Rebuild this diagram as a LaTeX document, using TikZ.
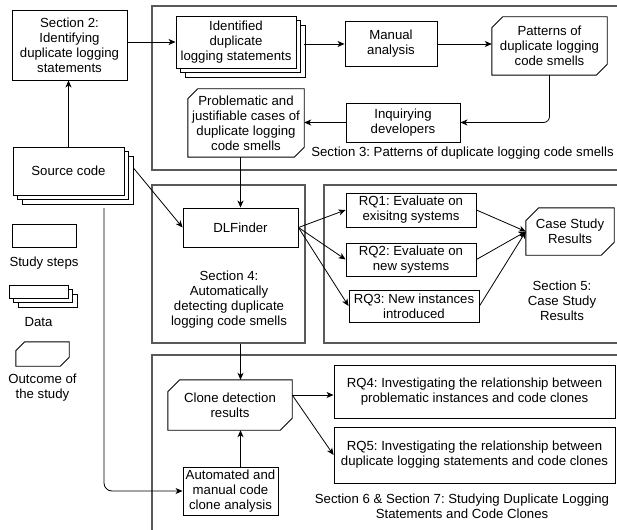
\documentclass[tikz,border=0pt]{standalone}
\usepackage{fontspec}
\setmainfont{Liberation Sans}
\usetikzlibrary{positioning, shadows, arrows.meta}
\frenchspacing

\begin{document}
\begin{tikzpicture}[
    x=1pt, y=-1pt,
    every node/.style={font=\fontsize{13.2}{15}\selectfont},
    box/.style={draw, rectangle, line width=0.9pt, inner sep=2pt, align=center},
    datastack/.style={box, fill=white, double copy shadow={shadow xshift=4.5pt, shadow yshift=-4.5pt, fill=white, draw=black, line width=0.9pt}},
    outcome/.style={rectangle, inner sep=2pt, align=center},
    chamfer/.style={line width=0.9pt},
    secbox/.style={draw=black!65, line width=1.3pt, rectangle, inner sep=0pt},
    seclabel/.style={align=center, inner sep=1pt},
    arrow/.style={-{Stealth[length=7pt, width=6pt, inset=2pt]}, line width=0.8pt}
]
\useasboundingbox (0,0) rectangle (617,529);

% Section frames, open to the right edge
\node[secbox, minimum width=468, minimum height=164] (sec3) at (386,88) {};
\node[secbox, minimum width=153, minimum height=158] (sec4) at (228.5,264) {};
\node[secbox, minimum width=296, minimum height=158] (sec5) at (472,264) {};
\node[secbox, minimum width=468, minimum height=180] (sec6) at (386,445) {};

% Section 2 and the source code
\node[box, minimum width=115, minimum height=70] (sec2) at (69.5,45) {Section 2:\\Identifying\\duplicate logging\\statements};
\node[datastack, minimum width=111, minimum height=48] (src) at (68.5,171) {Source code};

% Section 3
\node[datastack, minimum width=120, minimum height=52] (dup) at (236,42) {Identified\\duplicate\\logging statements};
\node[box, minimum width=92, minimum height=45] (manual) at (391,44) {Manual\\analysis};
\node[outcome, minimum width=115, minimum height=58] (patterns) at (549.5,46) {Patterns of\\duplicate logging\\code smells};
\node[box, minimum width=114, minimum height=39] (inquiry) at (403,122.5) {Inquirying\\developers};
\node[outcome, minimum width=116, minimum height=68] (problem) at (246,123) {Problematic and\\justifiable cases of\\duplicate logging\\code smells};
\node[seclabel] (sec3label) at (462.5,153) {Section 3: Patterns of duplicate logging code smells};

% Section 4
\node[box, minimum width=115, minimum height=39] (finder) at (240.5,227.5) {DLFinder};
\node[seclabel] (sec4label) at (229,300) {Section 4:\\Automatically\\detecting duplicate\\logging code smells};

% Section 5
\node[box, minimum width=130, minimum height=34] (rq1) at (411,210) {RQ1: Evaluate on\\exisitng systems};
\node[box, minimum width=130, minimum height=33] (rq2) at (411,259.5) {RQ2: Evaluate on\\new systems};
\node[box, minimum width=130, minimum height=32] (rq3) at (414,306) {RQ3: New instances\\introduced};
\node[outcome, minimum width=88, minimum height=47] (case) at (570,231.5) {Case Study\\Results};
\node[seclabel] (sec5label) at (562,301) {Section 5:\\Case Study\\Results};

% Section 6 & 7
\node[outcome, minimum width=124, minimum height=50] (clone) at (230,405) {Clone detection\\results};
\node[box, minimum width=95, minimum height=48] (auto) at (230.5,491) {Automated and\\manual code\\clone analysis};
\node[box, minimum width=281, minimum height=53] (rq4) at (474.5,391.5) {RQ4: Investigating the relationship between\\problematic instances and code clones};
\node[box, minimum width=281, minimum height=56] (rq5) at (474.5,455) {RQ5: Investigating the relationship between\\duplicate logging statements and code clones};
\node[seclabel] (sec6label) at (462,506) {Section 6 \& Section 7: Studying Duplicate Logging\\Statements and Code Clones};

% Legend
\node[box, minimum width=64, minimum height=23] (steplegend) at (44,235.5) {};
\node[seclabel, below=8pt of steplegend] {Study steps};
\node[datastack, minimum width=59, minimum height=13] (datalegend) at (38.5,291.5) {};
\node[seclabel, below=18pt of datalegend] {Data};
\node[outcome, minimum width=53, minimum height=24] (outlegend) at (42.5,354) {};
\node[seclabel, below=7pt of outlegend] {Outcome of\\the study};

% Chamfered outlines of the outcomes
\foreach \n/\c in {patterns/11, problem/10, case/13, clone/12, outlegend/9}
  \draw[chamfer] ([xshift=\c pt]\n.north west) -- (\n.north east) -- ([yshift=\c pt]\n.south east)
    -- ([xshift=-\c pt]\n.south east) -- (\n.south west) -- ([yshift=-\c pt]\n.north west) -- cycle;

% Arrows
\draw[arrow] (src.north) -- (src.north |- sec2.south);
\draw[arrow] (sec2.east |- dup) -- (dup.west);
\draw[arrow] ([xshift=8pt, yshift=-2pt]dup.east) -- (manual.west);
\draw[arrow] (manual.east) -- (manual.east -| patterns.west);
\draw[arrow, rounded corners=6pt] (patterns.south) |- (inquiry.east);
\draw[arrow] (inquiry.west) -- (inquiry.west -| problem.east);
\draw[arrow] (problem.south -| finder) -- (finder.north);
\draw[arrow] ([xshift=9pt, yshift=3pt]src.east) -- (finder.west);

\foreach \q in {rq1, rq2, rq3} {
  \draw[arrow] (finder.east) -- (\q.west);
  \draw[arrow] (\q.east) -- (case.west);
}

\draw[arrow] (sec4.south -| finder) -- (finder |- clone.north);
\draw[arrow] (finder |- auto.north) -- (finder |- clone.south);
\coordinate (cloneout) at ([yshift=10pt]clone.east);
\draw[arrow] (cloneout) -- (cloneout -| rq4.west);
\draw[arrow] (cloneout) -- (rq5.west);

\coordinate (srcout) at (104,208);
\draw[arrow, rounded corners=8pt] (srcout) |- (auto.west);

\end{tikzpicture}
\end{document}
